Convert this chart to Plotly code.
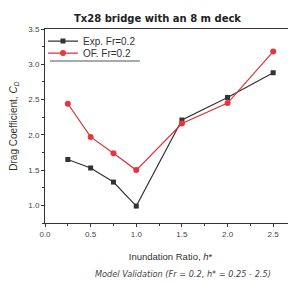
import plotly.graph_objects as go

h_ratio = [0.25, 0.5, 0.75, 1.0, 1.5, 2.0, 2.5]
exp_cd = [1.65, 1.53, 1.33, 0.99, 2.21, 2.53, 2.88]
of_cd = [2.44, 1.97, 1.74, 1.50, 2.16, 2.45, 3.18]
x_ticks = [0.0, 0.5, 1.0, 1.5, 2.0, 2.5]
y_ticks = [1.0, 1.5, 2.0, 2.5, 3.0, 3.5]

fig = go.Figure()
fig.add_trace(go.Scatter(x=h_ratio, y=exp_cd, mode="lines+markers", name="Exp. Fr=0.2",
                         legend="legend",
                         line=dict(color="#333333", width=1.2),
                         marker=dict(symbol="square", size=5, color="#333333")))
fig.add_trace(go.Scatter(x=h_ratio, y=of_cd, mode="lines+markers", name="OF. Fr=0.2",
                         legend="legend2",
                         line=dict(color="#d9333a", width=1.2),
                         marker=dict(symbol="circle", size=6, color="#e8343c")))

axis_common = dict(showgrid=False, zeroline=False, showline=True, linecolor="#333333",
                   linewidth=1, mirror=True, ticks="outside", ticklen=3, tickcolor="#333333",
                   automargin=False,
                   tickfont=dict(family="Liberation Sans, Arial", size=8, color="#444444"))

leg_font = dict(family="Liberation Sans, Arial", size=10, color="#333333")

# page body has an 8px margin, so the figure is shrunk by 8px to fit the window
fig.update_layout(
    width=288, height=276,
    margin=dict(l=37, r=0, t=21, b=61, autoexpand=False),
    paper_bgcolor="white", plot_bgcolor="white",
    showlegend=True,
    legend=dict(x=-0.008, y=0.938, xanchor="left", yanchor="middle", bgcolor="rgba(0,0,0,0)",
                font=leg_font, itemwidth=30),
    legend2=dict(x=-0.008, y=0.876, xanchor="left", yanchor="middle", bgcolor="rgba(0,0,0,0)",
                 font=leg_font, itemwidth=30),
    xaxis=dict(range=[0, 2.75], tickvals=x_ticks, ticktext=[f"{v:.1f}" for v in x_ticks],
               minor=dict(ticks="outside", ticklen=2, dtick=0.25, tickcolor="#333333"),
               title=dict(text="Inundation Ratio, <i>h</i>*",
                          font=dict(family="Liberation Sans, Arial", size=9.5, color="#333333")),
               **axis_common),
    yaxis=dict(range=[0.75, 3.5], tickvals=y_ticks, ticktext=[f"{v:.1f}" for v in y_ticks],
               minor=dict(ticks="outside", ticklen=2, dtick=0.25, tickcolor="#333333"),
               title=dict(text="Drag Coefficient, <i>C</i><sub><i>D</i></sub>",
                          font=dict(family="Liberation Sans, Arial", size=10, color="#333333")),
               **axis_common),
)

fig.add_annotation(text="<b>Tx28 bridge with an 8 m deck</b>", xref="paper", yref="paper",
                   x=0.108, y=1.0, yshift=11, showarrow=False, xanchor="left", yanchor="middle",
                   font=dict(family="DejaVu Sans", size=10, color="#222222"))
fig.add_annotation(text="<i>Model Validation (Fr = 0.2, h* = 0.25 - 2.5)</i>", xref="paper", yref="paper",
                   x=0.191, y=0, yshift=-51, showarrow=False, xanchor="left", yanchor="middle",
                   font=dict(family="DejaVu Sans", size=8.2, color="#444444"))
fig.add_shape(type="line", xref="paper", yref="paper", x0=0.02, x1=0.378, y0=0.835, y1=0.835,
              line=dict(color="#555555", width=1))

fig.write_html("out.html")
